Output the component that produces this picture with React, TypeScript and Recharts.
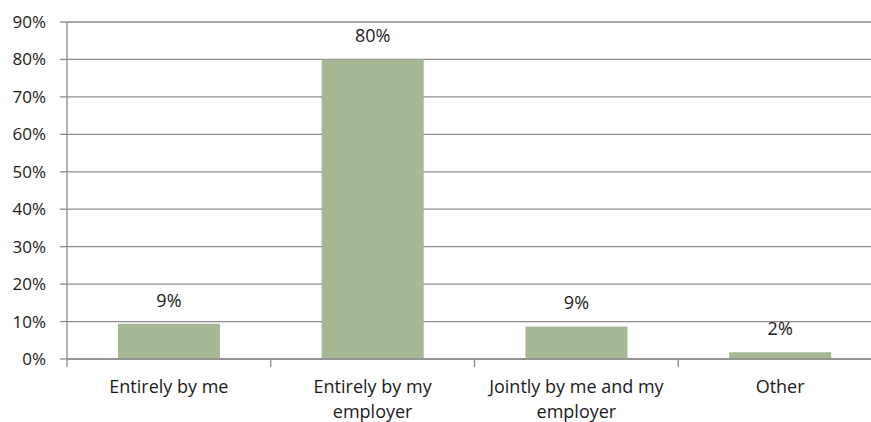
import { Bar, BarChart, CartesianGrid, LabelList, XAxis, YAxis } from "recharts";

const categories = [
  "Entirely by me",
  "Entirely by my employer",
  "Jointly by me and my employer",
  "Other",
];
const shares = [9.4, 80, 8.7, 1.8];
const yTicks = [0, 10, 20, 30, 40, 50, 60, 70, 80, 90];
const boundaryTicks = [0, 1, 2, 3, 4];

const FONT = "'Open Sans', sans-serif";
const TEXT = "#1a1a1a";
const GRID = "#8c8c8c";
const BAR = "#a6b793";

const data = categories.map((name, i) => ({ name, share: shares[i] }));

// greedy word wrap for the category labels
function wrap(text: string, max: number) {
  const lines: string[] = [];
  let cur = "";
  for (const w of text.split(" ")) {
    const next = cur ? `${cur} ${w}` : w;
    if (next.length > max && cur) {
      lines.push(cur);
      cur = w;
    } else cur = next;
  }
  if (cur) lines.push(cur);
  return lines;
}

function CategoryTick({ x, y, payload }: any) {
  const lines = wrap(String(payload.value), 20);
  return (
    <g>
      {lines.map((line, i) => (
        <text
          key={i}
          x={x}
          y={y + 27 + i * 25}
          textAnchor="middle"
          dominantBaseline="central"
          fontFamily={FONT}
          fontSize={18}
          fill={TEXT}
        >
          {line}
        </text>
      ))}
    </g>
  );
}

function ValueLabel({ x, y, width, value }: any) {
  return (
    <text
      x={x + width / 2}
      y={y - 24}
      textAnchor="middle"
      dominantBaseline="central"
      fontFamily={FONT}
      fontSize={18}
      fill={TEXT}
    >
      {`${Math.round(value)}%`}
    </text>
  );
}

const noTick = () => <g />;

export default function App() {
  return (
    <div
      style={{
        position: "absolute",
        left: 0,
        top: 0,
        width: 871,
        height: 422,
        overflow: "hidden",
        background: "#fff",
      }}
    >
      <BarChart
        width={882}
        height={422}
        data={data}
        margin={{ top: 22, right: 0, bottom: 61, left: 0 }}
        barCategoryGap="25%"
      >
        <CartesianGrid vertical={false} stroke={GRID} strokeWidth={1.3} />
        {/* tick marks sit on category boundaries */}
        <XAxis
          xAxisId="edges"
          type="number"
          dataKey={() => 0}
          domain={[0, 4]}
          ticks={boundaryTicks}
          height={1}
          axisLine={false}
          tickLine={{ stroke: GRID, strokeWidth: 1.3 }}
          tickSize={7}
          tick={noTick}
          allowDataOverflow
        />
        <XAxis
          xAxisId="cat"
          dataKey="name"
          height={1}
          axisLine={{ stroke: GRID, strokeWidth: 1.3 }}
          tickLine={false}
          tickSize={0}
          tickMargin={0}
          tick={<CategoryTick />}
          interval={0}
        />
        <YAxis
          width={67}
          domain={[0, 90]}
          ticks={yTicks}
          interval={0}
          tickFormatter={(v) => `${v}%`}
          axisLine={{ stroke: GRID, strokeWidth: 1.3 }}
          tickLine={{ stroke: GRID, strokeWidth: 1.3 }}
          tickSize={7}
          tickMargin={14}
          tick={{ fill: TEXT, fontSize: 17, fontFamily: FONT }}
        />
        <Bar
          xAxisId="cat"
          dataKey="share"
          fill={BAR}
          isAnimationActive={false}
        >
          <LabelList dataKey="share" content={<ValueLabel />} />
        </Bar>
      </BarChart>
    </div>
  );
}
